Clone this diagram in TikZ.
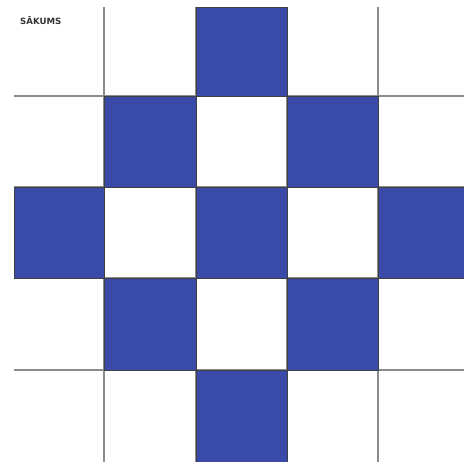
\documentclass[tikz,border=0pt]{standalone}
\usepackage{fontspec}
\setsansfont{DejaVu Sans}
\usetikzlibrary{positioning}
\definecolor{tile}{HTML}{3A4AA8}
\definecolor{gridline}{HTML}{8C8C8C}

\begin{document}
\begin{tikzpicture}[x=1pt, y=-1pt,
    tilebox/.style={fill=tile, draw=black!75, line width=0.6pt},
    gridrule/.style={gridline, line width=1.6pt}]
  \useasboundingbox (0,0) rectangle (464,462);

  % Grid lines
  \foreach \x in {104,196,287,378} {
    \draw[gridrule] (\x,7) -- (\x,462);
  }
  \foreach \y in {96,187,278,370} {
    \draw[gridrule] (14,\y) -- (464,\y);
  }

  % Blue tiles (left, top, right, bottom)
  \foreach \l/\t/\r/\b in {196/7/287/96,
                           104/96/196/187, 287/96/378/187,
                           14/187/104/278, 196/187/287/278, 378/187/466/278,
                           104/278/196/370, 287/278/378/370,
                           196/370/287/463} {
    \draw[tilebox] (\l,\t) rectangle (\r,\b);
  }

  % Start label
  \node[anchor=west, inner sep=0pt, text=black!80,
        font=\sffamily\bfseries\fontsize{8.6}{10}\selectfont] (start) at (20,21) {SĀKUMS};
\end{tikzpicture}
\end{document}
